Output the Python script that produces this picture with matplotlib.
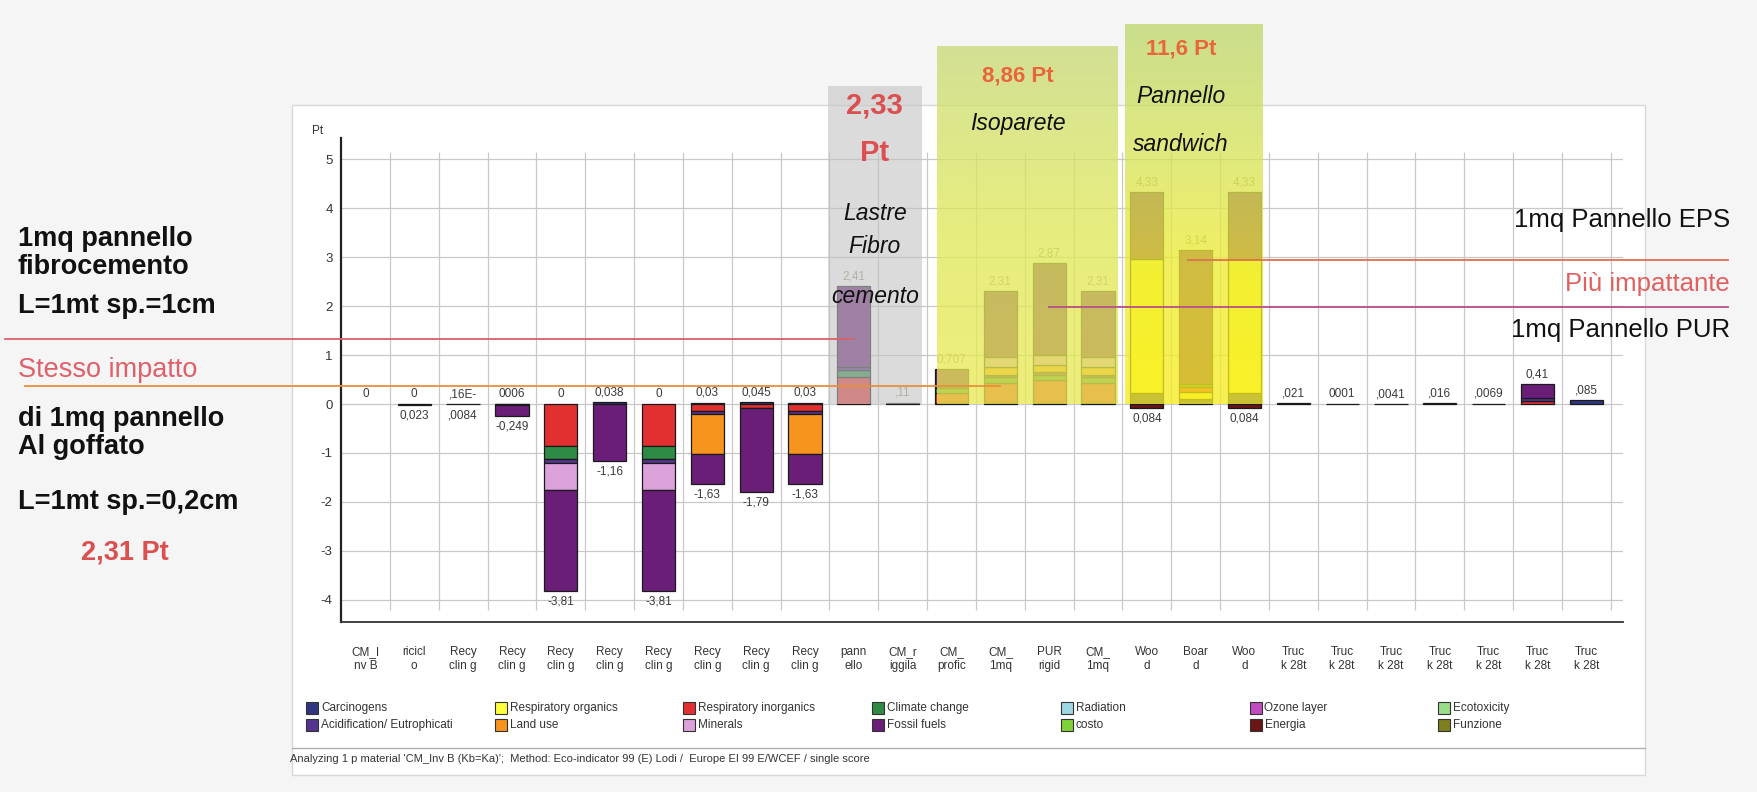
import numpy as np
import matplotlib.pyplot as plt
from matplotlib.patches import Rectangle
from matplotlib.colors import LinearSegmentedColormap

plt.rcParams['font.family'] = ['Liberation Sans', 'DejaVu Sans']
plt.rcParams['axes.unicode_minus'] = False

W, H = 1757, 792

# etichette asse x (26 colonne)
labels = (['CM_I\nnv B', 'ricicl\no'] + ['Recy\nclin g'] * 8 +
          ['pann\nello', 'CM_r\niggila', 'CM_\nprofic', 'CM_\n1mq', 'PUR\nrigid', 'CM_\n1mq',
           'Woo\nd', 'Boar\nd', 'Woo\nd'] + ['Truc\nk 28t'] * 7)

categories = ['Carcinogens', 'Respiratory organics', 'Respiratory inorganics', 'Climate change',
              'Radiation', 'Ozone layer', 'Ecotoxicity',
              'Acidification/ Eutrophicati', 'Land use', 'Minerals', 'Fossil fuels',
              'costo', 'Energia', 'Funzione']
colors = ['#2f3580', '#ffff40', '#e23030', '#2e8b45', '#9fd6e4', '#c04cc0', '#99dd88',
          '#55348f', '#f7941e', '#dba2dc', '#6a1e78', '#7fd23a', '#6b1515', '#7f7f1f']

# punteggi per categoria di impatto (Pt), una voce per colonna
carcinogens = [0, 0, 0, 0.0006, 0, 0.038, 0, 0.03, 0.045, 0.03, 0, 0, 0.03, 0.03, 0.03, 0.03,
               0.22, 0.1, 0.22, 0.021, 0.0001, 0.0041, 0.016, 0.0069, 0, 0.085]
resp_organics = [0] * 16 + [2.73, 0.15, 2.73] + [0] * 7
resp_inorganics = [0, 0, 0, 0, -0.85, 0, -0.85, -0.15, -0.08, -0.15, 0.55, 0, 0.2, 0.4, 0.45, 0.4,
                   0, 0.1, 0, 0, 0, 0, 0, 0, 0.07, 0]
climate_change = [0, 0, 0, 0, -0.27, 0, -0.27, 0, 0, 0, 0.15, 0, 0.1, 0.12, 0.12, 0.12,
                  0, 0.05, 0, 0, 0, 0, 0, 0, 0, 0]
radiation = [0] * 26
ozone_layer = [0] * 26
ecotoxicity = [0] * 26
acidification = [0, -0.023, -0.0084, -0.03, -0.08, 0, -0.08, -0.05, 0, -0.05, 0.05, 0, 0.03, 0.05,
                 0.05, 0.05, 0, 0, 0, 0, 0, 0, 0, 0, 0.05, 0]
land_use = [0, 0, 0, 0, 0, 0, 0, -0.82, 0, -0.82, 0, 0, 0, 0.15, 0.15, 0.15,
            0, 0, 0, 0, 0, 0, 0, 0, 0, 0]
minerals = [0, 0, 0, 0, -0.55, 0, -0.55, 0, 0, 0, 0, 0, 0, 0.2, 0.2, 0.2,
            0, 0, 0, 0, 0, 0, 0, 0, 0, 0]
fossil_fuels = [0, 0, 0, -0.219, -2.06, -1.16, -2.06, -0.61, -1.71, -0.61, 1.66, 0.03, 0.347, 1.36,
                1.87, 1.36, 1.38, 2.74, 1.38, 0, 0, 0, 0, 0, 0.29, 0]
costo = [0] * 26
energia = [0] * 16 + [-0.084, 0, -0.084] + [0] * 7
funzione = [0] * 26

series = [carcinogens, resp_organics, resp_inorganics, climate_change, radiation, ozone_layer,
          ecotoxicity, acidification, land_use, minerals, fossil_fuels, costo, energia, funzione]

pos_labels = ['0', '0', ',16E-', '0006', '0', '0,038', '0', '0,03', '0,045', '0,03', '2,41', ',11',
              '0,707', '2,31', '2,87', '2,31', '4,33', '3,14', '4,33', ',021', '0001', ',0041',
              ',016', ',0069', '0,41', ',085']
neg_labels = ['', '0,023', ',0084', '-0,249', '-3,81', '-1,16', '-3,81', '-1,63', '-1,79', '-1,63',
              '', '', '', '', '', '', '0,084', '', '0,084', '', '', '', '', '', '', '']
faded = range(10, 19)


def fx(px):
    return px / W


def fy(py):
    return 1 - py / H


fig = plt.figure(figsize=(W / 100, H / 100), dpi=100, facecolor='#f5f5f5')
# pannello bianco dello screenshot
fig.add_artist(Rectangle((fx(292), fy(775)), fx(1645) - fx(292), fy(105) - fy(775),
                         transform=fig.transFigure, facecolor='white', edgecolor='#d8d8d8', lw=1, zorder=0))
fig.add_artist(plt.Line2D([fx(292), fx(1645)], [fy(748), fy(748)], transform=fig.transFigure,
                          color='#b0b0b0', lw=1))

XMIN, XMAX, YMIN, YMAX = -0.5, 25.75, -4.45, 5.43
ax = fig.add_axes([fx(341), fy(622), fx(1623) - fx(341), fy(138) - fy(622)])
ax.set_facecolor('none')

x = np.arange(len(labels))
ax.vlines(np.arange(0.5, 26), -4.2, 5.15, color='#c8c8c8', lw=0.9, zorder=0)
ax.hlines(np.arange(-4, 6), XMIN, XMAX, color='#c8c8c8', lw=0.9, zorder=0)

pos_b = np.zeros(len(x))
neg_b = np.zeros(len(x))
for name, col, vals in zip(categories, colors, series):
    v = np.array(vals, dtype=float)
    m = v != 0
    if not m.any():
        continue
    bottom = np.where(v > 0, pos_b, neg_b)
    ax.bar(x[m], v[m], bottom=bottom[m], width=0.68, color=col, edgecolor='#1a1a1a',
           linewidth=0.9, zorder=3)
    pos_b += np.where(v > 0, v, 0)
    neg_b += np.where(v < 0, v, 0)

for i in x:
    c = '#9a9478' if i in faded else '#3a3a3a'
    if pos_labels[i]:
        ax.text(i, pos_b[i] + 0.2, pos_labels[i], ha='center', va='center', fontsize=8.5,
                color=c, zorder=4)
    if neg_labels[i]:
        ax.text(i, neg_b[i] - 0.22, neg_labels[i], ha='center', va='center', fontsize=8.5,
                color='#3a3a3a', zorder=4)

# riquadri evidenziati sopra le barre
boxes = [
    (9.47, 11.38, 6.48, ['#c4c4c4', '#c4c4c4'], 0.6),
    (11.7, 15.4, 7.3, ['#eaea55', '#dfe85a', '#cadb78'], 0.78),
    (15.55, 18.37, 7.74, ['#f8ec20', '#f0ec30', '#d6e35a', '#bfd86e'], 0.78),
]
for x0, x1, top, stops, alpha in boxes:
    cmap = LinearSegmentedColormap.from_list('box', stops)
    img = cmap(np.linspace(1, 0, 80))[:, None, :].copy()
    img[..., 3] = alpha
    im = ax.imshow(img, extent=[x0, x1, 0, top], aspect='auto', zorder=5, interpolation='bilinear')
    im.set_clip_on(False)

red_b = '#dc4f50'
ora = '#e8663a'
ax.text(10.43, 6.1, '2,33', ha='center', va='center', fontsize=21, fontweight='bold', color=red_b, zorder=7)
ax.text(10.43, 5.12, 'Pt', ha='center', va='center', fontsize=21, fontweight='bold', color=red_b, zorder=7)
for txt, yy in [('Lastre', 3.88), ('Fibro', 3.22), ('cemento', 2.2)]:
    ax.text(10.43, yy, txt, ha='center', va='center', fontsize=16.5, style='italic', color='#111', zorder=7)
ax.text(13.35, 6.7, '8,86 Pt', ha='center', va='center', fontsize=16, fontweight='bold', color=ora, zorder=7)
ax.text(13.35, 5.73, 'Isoparete', ha='center', va='center', fontsize=16.5, style='italic', color='#111', zorder=7)
ax.text(16.7, 7.25, '11,6 Pt', ha='center', va='center', fontsize=16, fontweight='bold', color=ora, zorder=7)
ax.text(16.7, 6.28, 'Pannello', ha='center', va='center', fontsize=16.5, style='italic', color='#111', zorder=7)
ax.text(16.7, 5.3, 'sandwich', ha='center', va='center', fontsize=16.5, style='italic', color='#111', zorder=7)


def px2x(px):
    return XMIN + (px - 341) / 48.85


# linee di confronto
for y, xa, xb, col in [(1.33, px2x(5), 10.0, '#d9606a'), (0.37, px2x(25), 13.0, '#e8903c'),
                       (2.94, 16.85, px2x(1728), '#e07050'), (1.99, 14.0, px2x(1728), '#b8508a')]:
    ax.plot([xa, xb], [y, y], color=col, lw=1.3, zorder=6, clip_on=False)

ax.set_xlim(XMIN, XMAX)
ax.set_ylim(YMIN, YMAX)
ax.set_xticks(x, labels, fontsize=8.5, linespacing=1.25, color='#333333')
ax.set_yticks(np.arange(-4, 6))
ax.tick_params(axis='x', length=0, pad=17)
ax.tick_params(axis='y', length=0, pad=6, labelsize=9.5, labelcolor='#333333')
for s in ['top', 'right']:
    ax.spines[s].set_visible(False)
ax.spines['left'].set_color('#222222')
ax.spines['left'].set_linewidth(1.6)
ax.spines['bottom'].set_color('#333333')
ax.spines['bottom'].set_linewidth(1.3)
fig.text(fx(312), fy(131), 'Pt', fontsize=8.5, color='#333333', va='center')

# legenda disegnata a mano (colonne di larghezza fissa come in SimaPro)
for k, (name, col) in enumerate(zip(categories, colors)):
    r, c = divmod(k, 7)
    lx = 306 + 188.7 * c
    ly = 708 + 17 * r
    fig.add_artist(Rectangle((fx(lx), fy(ly + 6)), fx(12), 12 / H, transform=fig.transFigure,
                             facecolor=col, edgecolor='#333333', lw=0.8))
    fig.text(fx(lx + 15), fy(ly), name, fontsize=8.5, color='#333333', va='center')

fig.text(fx(290), fy(759), "Analyzing 1 p material 'CM_Inv B (Kb=Ka)';  Method: Eco-indicator 99 (E) Lodi /  "
         "Europe EI 99 E/WCEF / single score", fontsize=8, color='#333333', va='center')

# annotazioni a sinistra
left = [('1mq pannello', 239, 'bold', '#111111'), ('fibrocemento', 267, 'bold', '#111111'),
        ('L=1mt sp.=1cm', 306, 'bold', '#111111'), ('Stesso impatto', 370, 'normal', '#e0606a'),
        ('di 1mq pannello', 419, 'bold', '#111111'), ('Al goffato', 447, 'bold', '#111111'),
        ('L=1mt sp.=0,2cm', 502, 'bold', '#111111')]
for txt, py, wt, col in left:
    fig.text(fx(18), fy(py), txt, fontsize=19.5, fontweight=wt, color=col, va='center')
fig.text(fx(125), fy(552), '2,31 Pt', fontsize=19.5, fontweight='bold', color=red_b, va='center', ha='center')

# annotazioni a destra
for txt, py, col in [('1mq Pannello EPS', 220, '#111111'), ('Più impattante', 284, '#e06060'),
                     ('1mq Pannello PUR', 330, '#111111')]:
    fig.text(fx(1730), fy(py), txt, fontsize=18.5, color=col, va='center', ha='right')

fig.savefig('out.png', dpi=100, facecolor=fig.get_facecolor())
